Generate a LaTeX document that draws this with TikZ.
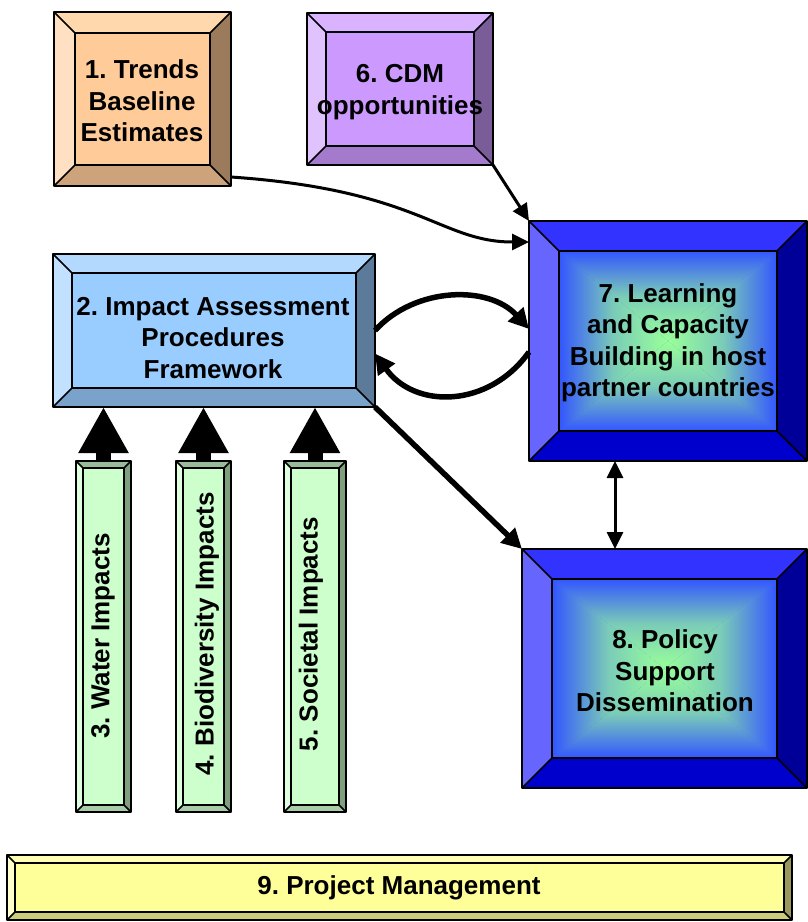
\documentclass[tikz,border=0pt]{standalone}
\usepackage{fontspec}
\setmainfont{Liberation Sans}
\usetikzlibrary{arrows.meta}
\frenchspacing

\definecolor{peachF}{HTML}{FFCC99}
\definecolor{peachT}{HTML}{FFD9AD}
\definecolor{peachL}{HTML}{FFE0C2}
\definecolor{peachR}{HTML}{9C7B5C}
\definecolor{peachB}{HTML}{CCA37A}
\definecolor{lilacF}{HTML}{CC99FF}
\definecolor{lilacT}{HTML}{D9B3FF}
\definecolor{lilacL}{HTML}{E0C2FF}
\definecolor{lilacR}{HTML}{7A5C99}
\definecolor{lilacB}{HTML}{A37ACC}
\definecolor{skyF}{HTML}{99CCFF}
\definecolor{skyT}{HTML}{B3D9FF}
\definecolor{skyL}{HTML}{C2E0FF}
\definecolor{skyR}{HTML}{5C7A99}
\definecolor{skyB}{HTML}{7AA3CC}
\definecolor{deepF}{HTML}{3355FF}
\definecolor{deepT}{HTML}{3333FF}
\definecolor{deepL}{HTML}{6666FF}
\definecolor{deepR}{HTML}{000099}
\definecolor{deepB}{HTML}{0000CC}
\definecolor{mintF}{HTML}{CCFFCC}
\definecolor{mintT}{HTML}{99BB99}
\definecolor{mintL}{HTML}{E0FFE0}
\definecolor{mintR}{HTML}{7FA07F}
\definecolor{mintB}{HTML}{A8CCA8}
\definecolor{lemonF}{HTML}{FFFF99}
\definecolor{lemonT}{HTML}{FFFFB3}
\definecolor{lemonL}{HTML}{FFFFCC}
\definecolor{lemonR}{HTML}{99995C}
\definecolor{lemonB}{HTML}{CCCC7A}
\definecolor{glowgreen}{HTML}{99FF99}
\definecolor{glowblue}{HTML}{3355FF}

\tikzset{
  box/.style={rectangle, inner sep=0pt, outer sep=0pt},
  rim/.style={draw=black, line width=1.6pt, line join=round},
  boxtext/.style={align=center, inner sep=0pt, font=\fontsize{26}{31.5}\selectfont\bfseries},
  thinarrow/.style={line width=3pt, -{Triangle[length=17pt,width=16pt]}},
  thickarrow/.style={line width=5.5pt, -{Triangle[length=20pt,width=20pt]}},
  blockarrow/.style={line width=15pt, -{Triangle[length=46pt,width=47pt]}}
}

\newcommand{\bevel}[3]{%
  \fill[#3T] (#1.north west) -- (#1.north east) -- ([shift={(-#2,#2)}]#1.north east) -- ([shift={(#2,#2)}]#1.north west) -- cycle;
  \fill[#3B] (#1.south west) -- (#1.south east) -- ([shift={(-#2,-#2)}]#1.south east) -- ([shift={(#2,-#2)}]#1.south west) -- cycle;
  \fill[#3L] (#1.north west) -- (#1.south west) -- ([shift={(#2,-#2)}]#1.south west) -- ([shift={(#2,#2)}]#1.north west) -- cycle;
  \fill[#3R] (#1.north east) -- (#1.south east) -- ([shift={(-#2,-#2)}]#1.south east) -- ([shift={(-#2,#2)}]#1.north east) -- cycle;
  \fill[#3F] ([shift={(#2,#2)}]#1.north west) rectangle ([shift={(-#2,-#2)}]#1.south east);
  \draw[rim] (#1.north west) -- ([shift={(#2,#2)}]#1.north west)
             (#1.north east) -- ([shift={(-#2,#2)}]#1.north east)
             (#1.south west) -- ([shift={(#2,-#2)}]#1.south west)
             (#1.south east) -- ([shift={(-#2,-#2)}]#1.south east);
  \draw[rim] ([shift={(#2,#2)}]#1.north west) rectangle ([shift={(-#2,-#2)}]#1.south east);
  \draw[rim] (#1.north west) rectangle (#1.south east);
}

\newcommand{\glow}[2]{%
  \shade[top color=glowblue, bottom color=glowgreen, middle color=glowgreen!70!glowblue] ([shift={(#2,#2)}]#1.north west) -- ([shift={(-#2,#2)}]#1.north east) -- (#1.center) -- cycle;
  \shade[top color=glowgreen, bottom color=glowblue, middle color=glowgreen!70!glowblue] ([shift={(#2,-#2)}]#1.south west) -- ([shift={(-#2,-#2)}]#1.south east) -- (#1.center) -- cycle;
  \shade[left color=glowblue, right color=glowgreen, middle color=glowgreen!70!glowblue] ([shift={(#2,#2)}]#1.north west) -- ([shift={(#2,-#2)}]#1.south west) -- (#1.center) -- cycle;
  \shade[left color=glowgreen, right color=glowblue, middle color=glowgreen!70!glowblue] ([shift={(-#2,#2)}]#1.north east) -- ([shift={(-#2,-#2)}]#1.south east) -- (#1.center) -- cycle;
  \draw[rim] ([shift={(#2,#2)}]#1.north west) rectangle ([shift={(-#2,-#2)}]#1.south east);
}

\begin{document}
\begin{tikzpicture}[x=1pt,y=-1pt]
\useasboundingbox (0,0) rectangle (808,922);

\node[box, minimum width=177pt, minimum height=174pt] (b1) at (142.5,99) {};
\node[box, minimum width=186pt, minimum height=152pt] (b6) at (400,89) {};
\node[box, minimum width=322pt, minimum height=153pt] (b2) at (214,330.5) {};
\node[box, minimum width=278pt, minimum height=240pt] (b7) at (668,341) {};
\node[box, minimum width=285pt, minimum height=239pt] (b8) at (664.5,668.5) {};
\node[box, minimum width=55pt, minimum height=351pt] (c3) at (103.5,636.5) {};
\node[box, minimum width=55pt, minimum height=351pt] (c4) at (203.5,636.5) {};
\node[box, minimum width=62pt, minimum height=351pt] (c5) at (315,636.5) {};
\node[box, minimum width=785pt, minimum height=65pt] (b9) at (399.5,887.5) {};

\bevel{b1}{21}{peach}
\bevel{b6}{19}{lilac}
\bevel{b2}{19}{sky}
\bevel{b7}{30}{deep}
\glow{b7}{30}
\bevel{b8}{30}{deep}
\glow{b8}{30}
\bevel{c3}{7}{mint}
\bevel{c4}{7}{mint}
\bevel{c5}{7}{mint}
\bevel{b9}{8}{lemon}

\node[boxtext] (t1) at (142,101) {1. Trends\\Baseline\\Estimates};
\node[boxtext] (t6) at (400,92) {6. CDM\\opportunities};
\node[boxtext] (t2) at (213,338) {2. Impact Assessment\\Procedures\\Framework};
\node[boxtext] (t7) at (668,343) {7. Learning\\and Capacity\\Building in host\\partner countries};
\node[boxtext] (t8) at (665,671) {8. Policy\\Support\\Dissemination};
\node[boxtext, rotate=90] (t3) at (103,636) {3. Water Impacts};
\node[boxtext, rotate=90] (t4) at (207,634) {4. Biodiversity Impacts};
\node[boxtext, rotate=90] (t5) at (311,634) {5. Societal Impacts};
\node[boxtext] (t9) at (399,888) {9. Project Management};

\draw[blockarrow] (c3.north) -- (c3.north |- b2.south);
\draw[blockarrow] (c4.north) -- (c4.north |- b2.south);
\draw[blockarrow] (c5.north) -- (c5.north |- b2.south);

\draw[thinarrow] ([yshift=9pt]b1.south east) .. controls (420,190) and (440,242) .. ([yshift=-21pt]b7.north west);
\draw[thinarrow] (b6.south east) -- (b7.north west);
\draw[thickarrow] (b2.east) .. controls +(40,-44) and +(-40,-44) .. ([yshift=12pt]b7.west);
\draw[thickarrow] ([yshift=-11pt]b7.west) .. controls +(-40,56) and +(40,56) .. ([yshift=-23pt]b2.east);
\draw[thickarrow] (b2.south east) -- (b8.north west);
\draw[thinarrow, {Triangle[length=17pt,width=16pt]}-{Triangle[length=17pt,width=16pt]}] ([xshift=-53pt]b7.south) -- ([xshift=-53pt]b7.south |- b8.north);
\end{tikzpicture}
\end{document}
